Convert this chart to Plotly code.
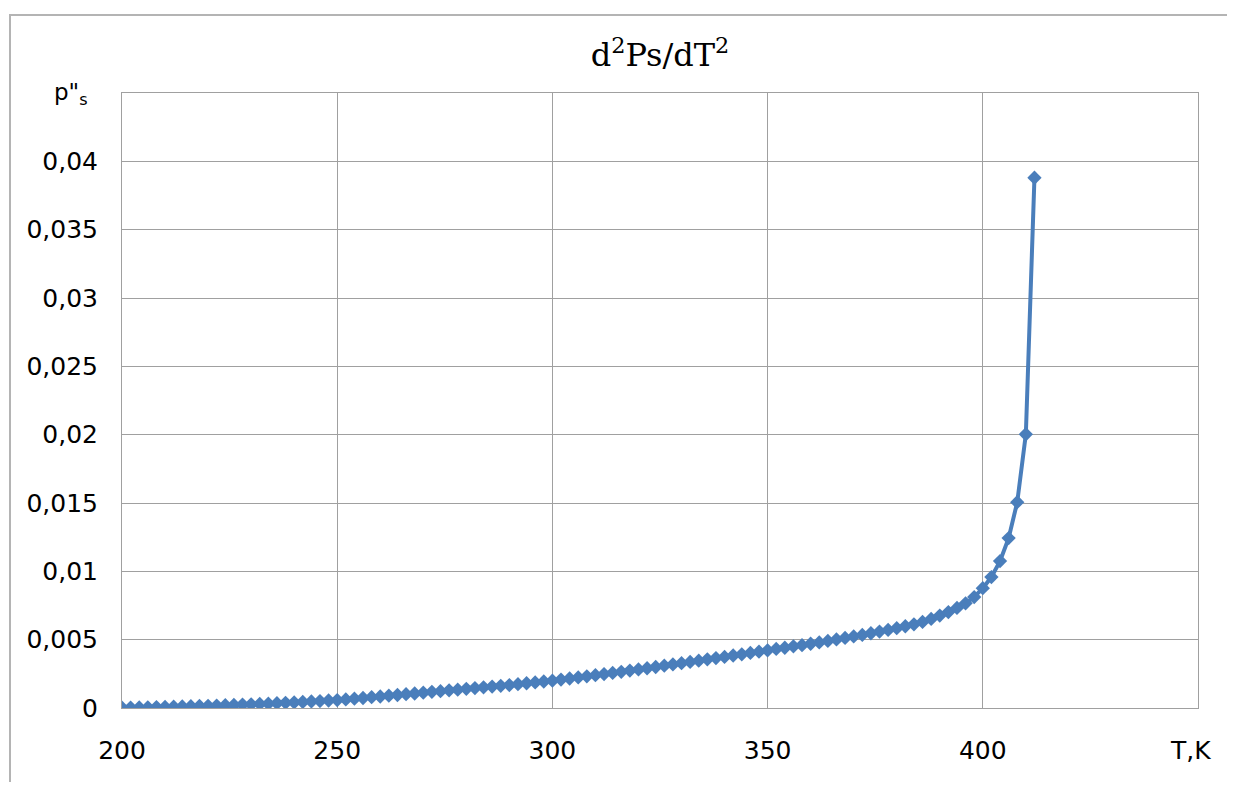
import plotly.graph_objects as go

T_values = [200, 202, 204, 206, 208, 210, 212, 214, 216, 218,
            220, 222, 224, 226, 228, 230, 232, 234, 236, 238,
            240, 242, 244, 246, 248, 250, 252, 254, 256, 258,
            260, 262, 264, 266, 268, 270, 272, 274, 276, 278,
            280, 282, 284, 286, 288, 290, 292, 294, 296, 298,
            300, 302, 304, 306, 308, 310, 312, 314, 316, 318,
            320, 322, 324, 326, 328, 330, 332, 334, 336, 338,
            340, 342, 344, 346, 348, 350, 352, 354, 356, 358,
            360, 362, 364, 366, 368, 370, 372, 374, 376, 378,
            380, 382, 384, 386, 388, 390, 392, 394, 396, 398,
            400, 402, 404, 406, 408, 410, 412]

ps2_values = [0.00002, 0.00003, 0.00004, 0.00005, 0.00007, 0.00008, 0.00010, 0.00011, 0.00013, 0.00015,
              0.00016, 0.00018, 0.00020, 0.00022, 0.00025, 0.00027, 0.00030, 0.00032, 0.00035, 0.00038,
              0.00041, 0.00044, 0.00048, 0.00051, 0.00055, 0.00058, 0.00063, 0.00068, 0.00073, 0.00079,
              0.00084, 0.00090, 0.00095, 0.00101, 0.00106, 0.00112, 0.00118, 0.00123, 0.00129, 0.00134,
              0.00140, 0.00146, 0.00151, 0.00157, 0.00162, 0.00168, 0.00174, 0.00181, 0.00187, 0.00194,
              0.00200, 0.00208, 0.00216, 0.00224, 0.00232, 0.00240, 0.00248, 0.00257, 0.00265, 0.00274,
              0.00282, 0.00291, 0.00300, 0.00310, 0.00319, 0.00328, 0.00337, 0.00346, 0.00356, 0.00365,
              0.00374, 0.00384, 0.00393, 0.00403, 0.00412, 0.00422, 0.00432, 0.00441, 0.00451, 0.00460,
              0.00470, 0.00480, 0.00491, 0.00502, 0.00513, 0.00524, 0.00535, 0.00547, 0.00559, 0.00571,
              0.00584, 0.00598, 0.00612, 0.00630, 0.00652, 0.00676, 0.00702, 0.00732, 0.00766, 0.00812,
              0.00877, 0.00958, 0.01075, 0.01243, 0.01506, 0.02003, 0.0388]

x_ticks = [200, 250, 300, 350, 400]
x_tick_labels = ["200", "250", "300", "350", "400"]
y_ticks = [0, 0.005, 0.01, 0.015, 0.02, 0.025, 0.03, 0.035, 0.04]
y_tick_labels = ["0", "0,005", "0,01", "0,015", "0,02", "0,025", "0,03", "0,035", "0,04"]

title_text = "d<sup>2</sup>Ps/dT<sup>2</sup>"
y_label = "p\"<sub>s</sub>"
x_label = "T,K"

line_color = "#4A7EBB"
grid_color = "#A0A0A0"

# page offset of the plot div (default body margin)
OFF = 8
W, H = 1235 - 2 * OFF, 790 - 2 * OFF
# desired plot area in page pixels: left 122, right 1198, top 93, bottom 708
L, TOP = 122 - OFF, 93 - OFF
R = W - (1198 - OFF)
B = H - (708 - OFF)
pw = W - L - R
ph = H - TOP - B


def px(xp):
    return (xp - OFF - L) / pw


def py(yp):
    return (H - B - (yp - OFF)) / ph


fig = go.Figure()
fig.add_trace(go.Scatter(
    x=T_values, y=ps2_values, mode="lines+markers",
    line=dict(color=line_color, width=4),
    marker=dict(symbol="diamond", size=11, color=line_color),
    showlegend=False, hoverinfo="x+y",
))

tick_font = dict(family="DejaVu Sans, Liberation Sans, Arial", size=25, color="#000000")

fig.update_layout(
    width=W, height=H,
    margin=dict(l=L, r=R, t=TOP, b=B, pad=0),
    paper_bgcolor="white", plot_bgcolor="white",
    showlegend=False,
    xaxis=dict(
        range=[200, 450], tickvals=x_ticks, ticktext=x_tick_labels,
        showgrid=True, gridcolor=grid_color, gridwidth=1,
        showline=True, linecolor=grid_color, linewidth=1, mirror=True,
        zeroline=False, ticks="", tickfont=tick_font, ticklabelstandoff=20,
    ),
    yaxis=dict(
        range=[0, 0.045], tickvals=y_ticks, ticktext=y_tick_labels,
        showgrid=True, gridcolor=grid_color, gridwidth=1,
        showline=True, linecolor=grid_color, linewidth=1, mirror=True,
        zeroline=False, ticks="", tickfont=tick_font, ticklabelstandoff=18,
    ),
    title=dict(
        text=title_text, x=(660 - OFF) / W, xanchor="center",
        y=1 - (55 - OFF) / H, yanchor="middle",
        font=dict(family="DejaVu Serif, Liberation Serif, Times New Roman", size=32, color="#000000"),
    ),
)

# Outer chart frame (only left and top edges visible in the picture)
fig.add_shape(
    type="rect", xref="paper", yref="paper",
    x0=px(10), x1=px(1260),
    y0=py(820), y1=py(15),
    line=dict(color="#B4B4B4", width=2), fillcolor="rgba(0,0,0,0)", layer="below",
)

fig.add_annotation(
    text=y_label, xref="paper", yref="paper",
    x=px(52), y=py(94), xanchor="left", yanchor="middle",
    showarrow=False, font=dict(family="DejaVu Sans, Liberation Sans, Arial", size=23, color="#000000"),
)
fig.add_annotation(
    text=x_label, xref="paper", yref="paper",
    x=px(1190), y=py(750), xanchor="center", yanchor="middle",
    showarrow=False, font=tick_font,
)

fig.write_html("out.html")
